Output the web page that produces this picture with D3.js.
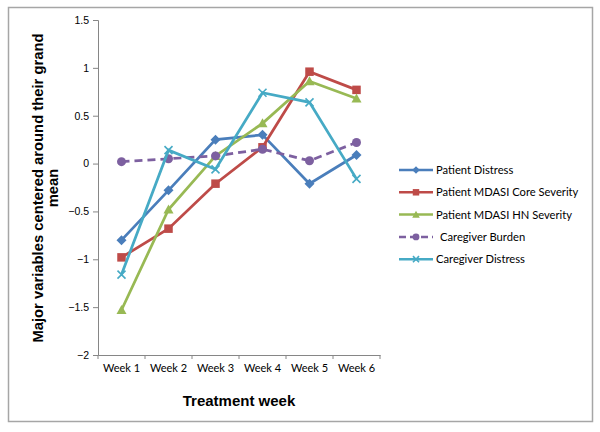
<!DOCTYPE html>
<html><head><meta charset="utf-8">
<script src="https://cdn.jsdelivr.net/npm/d3@7"></script>
<style>body{margin:0;background:#fff}</style>
</head><body>
<svg id="c" width="600" height="432"></svg>
<script>
const weeks = ["Week 1","Week 2","Week 3","Week 4","Week 5","Week 6"];
const yTicks = [-2,-1.5,-1,-0.5,0,0.5,1,1.5];
const patientDistress = [-0.80,-0.28,0.25,0.30,-0.21,0.09];
const mdasiCore = [-0.98,-0.68,-0.21,0.17,0.96,0.77];
const mdasiHN = [-1.53,-0.48,0.08,0.42,0.86,0.68];
const caregiverBurden = [0.02,0.05,0.08,0.15,0.03,0.22];
const caregiverDistress = [-1.16,0.14,-0.06,0.74,0.64,-0.16];
const seriesNames = ["Patient Distress","Patient MDASI Core Severity","Patient MDASI HN Severity","Caregiver Burden","Caregiver Distress"];
const seriesData = [patientDistress, mdasiCore, mdasiHN, caregiverBurden, caregiverDistress];
const colors = ["#4A7EBB","#BE4B48","#98B954","#7D60A0","#46AAC5"];
const markers = ["diamond","square","triangle","circle","x"];
const dashed = [false,false,false,true,false];

const svg = d3.select("#c");
svg.append("rect").attr("x",8.5).attr("y",7.5).attr("width",584).attr("height",414)
  .attr("fill","#fff").attr("stroke","#a6a6a6").attr("stroke-width",1.5);

const x = d3.scaleBand().domain(weeks).range([98,380]);
const y = d3.scaleLinear().domain([-2,1.5]).range([355,20]);

const tickFont = "Liberation Sans, Arial, sans-serif";
const lblFont = "Lato, 'Open Sans', sans-serif";

// Y axis
const ya = svg.append("g").attr("transform","translate(98,0)")
  .call(d3.axisLeft(y).tickValues(yTicks).tickSize(5).tickFormat(d=>d3.format("")(d)));
ya.select(".domain").attr("stroke","#868686");
ya.selectAll(".tick line").attr("stroke","#868686");
ya.selectAll("text").attr("font-family",tickFont).attr("font-size",10.5).attr("fill","#000").attr("dx",-1);

// X axis
const xa = svg.append("g").attr("transform","translate(0,355)")
  .call(d3.axisBottom(x).tickSize(0).tickSizeOuter(0));
xa.select(".domain").attr("stroke","#868686");
xa.selectAll(".tick line").remove();
xa.selectAll(".bt").data(weeks.concat(["end"])).enter().append("line")
  .attr("x1",(d,i)=>i<weeks.length?x(d):x.range()[1]).attr("x2",(d,i)=>i<weeks.length?x(d):x.range()[1])
  .attr("y1",0).attr("y2",4).attr("stroke","#868686");
xa.selectAll(".tick text").attr("font-family",lblFont).attr("font-size",11).attr("fill","#000").attr("dy","1.3em");

// Axis titles
svg.append("text").attr("x",239).attr("y",406).attr("text-anchor","middle")
  .attr("font-family",tickFont).attr("font-weight","bold").attr("font-size",15).text("Treatment week");
const yt = svg.append("text").attr("transform","translate(43,188) rotate(-90)").attr("text-anchor","middle")
  .attr("font-family",tickFont).attr("font-weight","bold").attr("font-size",14.8);
yt.append("tspan").attr("x",0).attr("y",0).text("Major variables centered around their grand");
yt.append("tspan").attr("x",0).attr("y",15).text("mean");

const cx = d => x(d)+x.bandwidth()/2;

function drawMarker(g, type, px, py, col, s){
  if(type==="diamond"){
    g.append("path").attr("d",`M${px},${py-s}L${px+s},${py}L${px},${py+s}L${px-s},${py}Z`).attr("fill",col);
  } else if(type==="square"){
    g.append("rect").attr("x",px-s*0.85).attr("y",py-s*0.85).attr("width",s*1.7).attr("height",s*1.7).attr("fill",col);
  } else if(type==="triangle"){
    g.append("path").attr("d",`M${px},${py-s}L${px+s},${py+s*0.8}L${px-s},${py+s*0.8}Z`).attr("fill",col);
  } else if(type==="circle"){
    g.append("circle").attr("cx",px).attr("cy",py).attr("r",s*0.9).attr("fill",col);
  } else if(type==="x"){
    g.append("path").attr("d",`M${px-s*0.8},${py-s*0.8}L${px+s*0.8},${py+s*0.8}M${px+s*0.8},${py-s*0.8}L${px-s*0.8},${py+s*0.8}`)
      .attr("stroke",col).attr("stroke-width",1.6);
  }
}

const line = d3.line().x((d,i)=>cx(weeks[i])).y(d=>y(d));
seriesData.forEach((vals,k)=>{
  const g = svg.append("g");
  g.append("path").datum(vals).attr("d",line).attr("fill","none").attr("stroke",colors[k])
    .attr("stroke-width",2.75).attr("stroke-dasharray",dashed[k]?"8,5":null);
  vals.forEach((v,i)=>drawMarker(g, markers[k], cx(weeks[i]), y(v), colors[k], 5));
});

// Legend
const lg = svg.append("g");
seriesNames.forEach((n,k)=>{
  const yy = 170 + k*22.3;
  lg.append("line").attr("x1",399).attr("x2",433).attr("y1",yy).attr("y2",yy).attr("stroke",colors[k])
    .attr("stroke-width",2.5).attr("stroke-dasharray",dashed[k]?"7,4":null);
  drawMarker(lg, markers[k], 416, yy, colors[k], 3.8);
  lg.append("text").attr("x",k===3?440:436).attr("y",yy).attr("dy","0.35em").attr("font-family",lblFont)
    .attr("font-size",11.2).text(n);
});
</script>
</body></html>
